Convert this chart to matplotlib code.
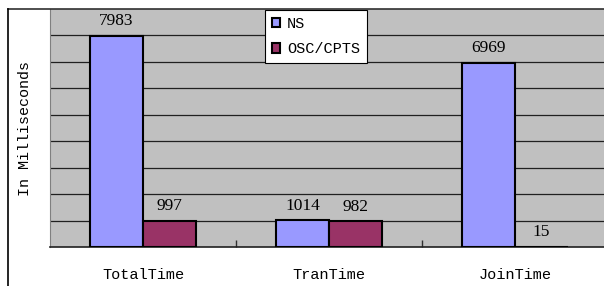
import numpy as np
import matplotlib
matplotlib.use("Agg")
import matplotlib.pyplot as plt
from matplotlib.lines import Line2D

categories = ["TotalTime", "TranTime", "JoinTime"]
ns_values = [7983, 1014, 6969]
osc_values = [997, 982, 15]
series_names = ["NS", "OSC/CPTS"]

blue = "#9999FF"
maroon = "#993366"

plt.rcParams["font.family"] = ["Liberation Mono", "DejaVu Sans Mono"]

fig = plt.figure(figsize=(6.04, 2.86), dpi=100)
W, H = 604, 286
ax = fig.add_axes([50 / W, (H - 247) / H, 558 / W, 238 / H])
ax.set_facecolor("#C0C0C0")

x = np.arange(len(categories))
bw = 0.285
ax.bar(x - bw / 2, ns_values, bw, color=blue, edgecolor="black", linewidth=1.5,
       label=series_names[0], zorder=3)
ax.bar(x + bw / 2, osc_values, bw, color=maroon, edgecolor="black", linewidth=1.5,
       label=series_names[1], zorder=3)

# value labels
for xs, vals in [(x - bw / 2, ns_values), (x + bw / 2, osc_values)]:
    for xi, v in zip(xs, vals):
        ax.annotate(str(v), (xi, v), xytext=(0, 7.5), textcoords="offset points",
                    ha="center", va="baseline", fontsize=12.5,
                    family="Liberation Serif", zorder=4)

ax.set_xlim(-0.5, 2.5)
ax.set_ylim(0, 9000)
ax.set_yticks(np.arange(1000, 9000, 1000))
ax.yaxis.grid(True, color="#202020", linewidth=0.9, zorder=1)
ax.tick_params(axis="y", left=False, labelleft=False)

ax.set_xticks(x)
ax.set_xticklabels(categories, fontsize=11)
ax.tick_params(axis="x", which="major", length=0, pad=15)
ax.set_xticks([0.5, 1.5], minor=True)
ax.tick_params(axis="x", which="minor", direction="in", length=5, width=1, color="#303030")

for side in ["top", "right"]:
    ax.spines[side].set_visible(False)
ax.spines["left"].set_color("#808080")
ax.spines["bottom"].set_color("#202020")
ax.spines["bottom"].set_linewidth(1.2)

ax.set_ylabel("In Milliseconds", fontsize=10.8)
ax.yaxis.set_label_coords(-18 / 558, 0.5)

# chart frame lines
fig.add_artist(Line2D([8 / W, 1], [(H - 9) / H, (H - 9) / H], color="#303030",
                      linewidth=1.2, transform=fig.transFigure))
fig.add_artist(Line2D([8 / W, 8 / W], [0, (H - 9) / H], color="black",
                      linewidth=1.2, transform=fig.transFigure))

leg = ax.legend(loc="upper left", bbox_to_anchor=(265 / W, (H - 10) / H),
                bbox_transform=fig.transFigure, fontsize=11, frameon=True,
                fancybox=False, edgecolor="black", framealpha=1,
                handlelength=0.55, handleheight=0.55, handletextpad=0.45,
                borderpad=0.45, labelspacing=0.75, borderaxespad=0)
leg.get_frame().set_linewidth(0.8)
leg.set_zorder(5)

fig.savefig("out.png", dpi=100, facecolor="white")
